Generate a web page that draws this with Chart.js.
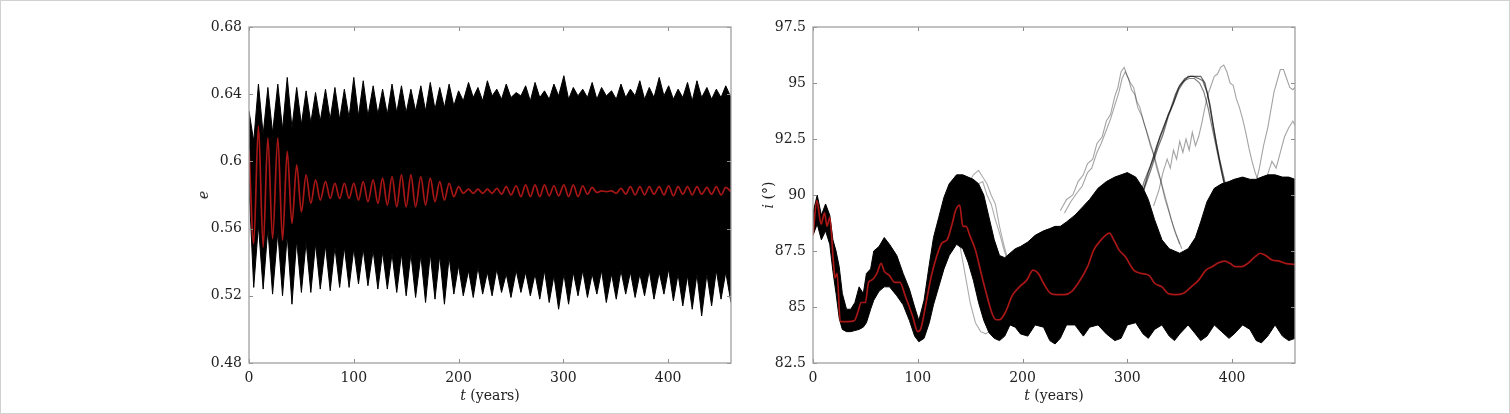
<!DOCTYPE html>
<html><head><meta charset="utf-8">
<script src="https://cdn.jsdelivr.net/npm/chart.js@4.4.1/dist/chart.umd.min.js"></script>
<style>
html,body{margin:0;padding:0;background:#fff;}
#wrap{position:relative;width:1510px;height:414px;overflow:hidden;background:#fff;}
canvas{position:absolute;top:0;}
.lbl{position:absolute;font-family:"DejaVu Serif",serif;font-size:14px;color:#222;white-space:nowrap;transform:translate(-50%,-50%);}
.rot{transform:translate(-50%,-50%) rotate(-90deg);}
#border{position:absolute;left:0;top:0;width:1510px;height:414px;box-sizing:border-box;border:1px solid #d2d2d2;pointer-events:none;}
</style></head><body>
<div id="wrap">
<canvas id="c1" style="left:150px" width="610" height="414"></canvas>
<canvas id="c2" style="left:760px" width="750" height="414"></canvas>
<div class="lbl" style="left:490px;top:395px"><i>t</i> (years)</div>
<div class="lbl" style="left:1054px;top:395px"><i>t</i> (years)</div>
<div class="lbl rot" style="left:203px;top:195px"><i>e</i></div>
<div class="lbl rot" style="left:768px;top:195px"><i>i</i> (°)</div>
<div id="border"></div>
</div>
<script>
// ---------- tick labels ----------
const xTicks = [0, 100, 200, 300, 400];
const yTicksLeft = [0.48, 0.52, 0.56, 0.60, 0.64, 0.68];
const yLabelsLeft = ['0.48', '0.52', '0.56', '0.6', '0.64', '0.68'];
const yTicksRight = [82.5, 85, 87.5, 90, 92.5, 95, 97.5];
const yLabelsRight = ['82.5', '85', '87.5', '90', '92.5', '95', '97.5'];

// ---------- left panel: eccentricity ----------
const tLeft = [0,4.5,9,13.5,18,22.5,27.5,32,36.5,41,
 45.5,50,54.5,59,63.5,68,73,77.5,82,86.5,
 91,95.5,100,104.5,109,113.5,118.5,123,127.5,132,
 136.5,141,145.5,150,154.5,159,164,168.5,173,177.5,
 182,186.5,191,195.5,200,204.5,209.5,214,218.5,223,
 227.5,232,236.5,241,245.5,250,255,259.5,264,268.5,
 273,277.5,282,286.5,291,295.5,300.5,305,309.5,314,
 318.5,323,327.5,332,336.5,341,346,350.5,355,359.5,
 364,368.5,373,377.5,382,386.5,391.5,396,400.5,405,
 409.5,414,418.5,423,427.5,432,437,441.5,446,450.5,
 455,460];
const eMean = [0.607,0.551,0.621,0.549,0.614,0.554,0.614,0.553,0.606,0.563,
 0.598,0.570,0.592,0.575,0.589,0.577,0.588,0.578,0.587,0.578,
 0.587,0.578,0.587,0.577,0.588,0.576,0.589,0.575,0.590,0.574,
 0.591,0.573,0.592,0.573,0.592,0.573,0.591,0.574,0.590,0.576,
 0.588,0.577,0.587,0.579,0.585,0.581,0.5835,0.581,0.5835,0.581,
 0.5835,0.581,0.584,0.5805,0.585,0.580,0.5855,0.579,0.586,0.579,
 0.586,0.579,0.586,0.5795,0.5855,0.5795,0.586,0.579,0.586,0.579,
 0.5855,0.5805,0.5845,0.5815,0.5825,0.582,0.5825,0.581,0.584,0.5805,
 0.585,0.580,0.585,0.580,0.585,0.5805,0.585,0.580,0.5855,0.5795,
 0.585,0.5805,0.585,0.580,0.585,0.5805,0.5845,0.5805,0.585,0.580,
 0.5845,0.582];
const eTop = [0.630,0.612,0.646,0.616,0.644,0.617,0.646,0.619,0.650,0.620,
 0.644,0.622,0.642,0.623,0.641,0.624,0.643,0.625,0.644,0.625,
 0.643,0.626,0.650,0.627,0.648,0.627,0.645,0.628,0.643,0.628,
 0.646,0.629,0.645,0.629,0.643,0.630,0.645,0.630,0.647,0.631,
 0.644,0.632,0.646,0.633,0.642,0.636,0.647,0.638,0.644,0.636,
 0.648,0.639,0.643,0.637,0.646,0.638,0.641,0.639,0.645,0.636,
 0.647,0.638,0.642,0.637,0.646,0.639,0.651,0.637,0.644,0.639,
 0.643,0.638,0.647,0.637,0.644,0.639,0.642,0.637,0.646,0.638,
 0.643,0.639,0.648,0.637,0.644,0.638,0.650,0.639,0.645,0.637,
 0.643,0.638,0.647,0.636,0.648,0.638,0.644,0.637,0.643,0.638,
 0.645,0.638];
const eBottom = [0.585,0.525,0.562,0.524,0.560,0.521,0.558,0.520,0.556,0.515,
 0.553,0.522,0.552,0.522,0.551,0.524,0.550,0.523,0.549,0.525,
 0.549,0.525,0.548,0.527,0.548,0.526,0.547,0.524,0.546,0.524,
 0.545,0.522,0.545,0.520,0.545,0.519,0.544,0.516,0.545,0.518,
 0.544,0.515,0.543,0.521,0.538,0.520,0.535,0.519,0.537,0.521,
 0.534,0.520,0.536,0.522,0.533,0.519,0.535,0.522,0.534,0.520,
 0.533,0.518,0.535,0.516,0.532,0.512,0.533,0.515,0.534,0.520,
 0.535,0.519,0.533,0.521,0.535,0.516,0.533,0.518,0.535,0.521,
 0.534,0.519,0.533,0.520,0.535,0.518,0.534,0.521,0.536,0.517,
 0.533,0.514,0.532,0.512,0.533,0.508,0.533,0.514,0.535,0.518,
 0.534,0.516];

// ---------- right panel: inclination ----------
const tMeanR = [0,3.7,7.7,11,13.4,16,19.5,21,23,26,33,39.6,43,46,50,53,56,61,65,68,
 73,78,83,88,95,100,103,108,113,118,123,128,133,136,140,143,146,150,155,161,
 166,171,175,178,184,190,197,204,210,215,220,227,233,240,247,253,262,268,275,283,
 287,292,298,306,313,321,326,333,339,346,353,361,368,375,381,386,393,398,403,409,
 415,422,427,432,438,445,451,460];
const iMean = [88.2,89.75,88.7,89.2,88.6,89.0,87.0,86.3,86.5,84.35,84.35,84.4,84.8,85.2,85.2,86.1,86.2,86.5,86.95,86.6,
 86.4,86.1,86.1,85.5,84.6,83.9,84.05,85.2,86.4,87.25,87.85,88.0,88.75,89.3,89.55,88.6,88.6,88.15,87.55,86.4,
 85.5,84.7,84.43,84.43,84.8,85.5,85.9,86.2,86.65,86.5,86.06,85.6,85.55,85.55,85.7,86.06,86.8,87.55,88.0,88.3,
 88.0,87.55,87.25,86.65,86.5,86.4,86.06,85.9,85.6,85.55,85.6,85.9,86.2,86.65,86.8,86.95,87.05,86.95,86.8,86.8,
 86.95,87.25,87.4,87.3,87.1,87.05,86.95,86.9];
const tBandR = [0,4,8,12,16,19,22,25,28,32,36,40,44,48,51,55,58,63,68,73,
 80,86,92,97,101,106,111,115,120,125,130,137,143,148,153,158,163,168,173,178,
 183,188,193,198,205,212,220,226,231,236,242,250,258,264,272,280,288,294,300,308,
 315,320,326,333,340,345,350,358,365,370,376,383,390,397,402,410,417,423,428,434,
 441,448,454,460];
const iTop = [89.2,90.0,89.1,89.6,89.1,88.0,87.5,86.8,85.6,84.9,84.9,85.2,85.9,85.6,86.5,86.7,87.5,87.7,88.1,87.8,
 87.3,86.5,85.8,85.0,84.4,85.3,86.9,88.1,89.0,89.9,90.5,90.9,90.9,90.8,90.7,90.5,90.0,89.0,88.0,87.3,
 87.2,87.4,87.6,87.7,87.9,88.2,88.4,88.5,88.6,88.6,88.8,89.1,89.5,89.8,90.3,90.6,90.8,90.9,91.0,90.8,
 90.3,89.8,88.9,88.0,87.6,87.5,87.4,87.6,88.1,88.8,89.7,90.3,90.5,90.6,90.7,90.8,90.7,90.7,90.8,90.9,
 90.9,90.8,90.8,90.7];
const iBottom = [88.2,88.7,88.0,88.4,87.8,86.6,85.6,84.5,84.0,83.9,83.9,83.95,84.0,84.1,84.3,84.9,85.3,85.7,85.9,85.9,
 85.5,85.1,84.4,83.7,83.45,83.6,84.3,85.1,85.9,86.7,87.3,87.8,87.6,87.0,86.2,85.2,84.4,83.85,83.6,83.5,
 83.7,84.2,84.1,83.8,83.7,84.2,84.1,83.5,83.35,83.6,84.2,84.2,83.7,84.1,84.2,83.8,83.5,83.6,84.2,84.3,
 83.8,83.6,84.0,84.2,83.7,83.5,83.8,84.2,83.8,83.5,83.7,84.2,83.9,83.6,83.8,84.2,84.0,83.5,83.4,83.7,
 84.2,83.7,83.5,83.6];
// individual outlier runs (grey lines)
const tRunA1 = [236,242,248,253,258,262,267,271,276,280,284,288,291,294,297,300,303,306,309,312,316,320,324,328,332,336,340,345,350];
const iRunA1 = [89.3,89.8,90.0,90.6,90.9,91.4,91.6,92.3,92.6,93.3,93.6,94.4,94.8,95.5,95.7,95.3,95.0,94.8,94.2,93.9,93.2,92.6,92.0,91.2,90.6,89.8,89.2,88.4,87.8];
const tRunA2 = [240,246,252,257,262,266,271,275,280,284,288,292,295,298,301,304,307,310,314,318,322,326,330,334,338,342,347,352];
const iRunA2 = [89.2,89.7,90.1,90.4,91.0,91.2,91.9,92.3,92.9,93.4,94.0,94.6,95.2,95.5,95.2,94.7,94.5,93.9,93.5,92.9,92.2,91.7,91.0,90.3,89.6,88.9,88.2,87.6];
const tRunB1 = [300,308,314,320,326,331,336,341,346,350,355,360,365,370,374,377,380,383,386,389,392,396,400,405];
const iRunB1 = [88.6,89.3,90.0,91.0,91.8,92.6,93.2,93.8,94.5,94.9,95.2,95.3,95.3,95.3,95.0,94.4,93.6,92.8,92.0,91.3,90.6,89.9,89.2,88.5];
const tRunB2 = [304,311,317,323,329,334,339,344,349,353,358,363,368,372,376,379,382,385,388,391,395,399,404,409];
const iRunB2 = [88.8,89.6,90.4,91.2,92.1,92.7,93.5,94.1,94.7,95.0,95.3,95.3,95.2,95.1,94.6,94.0,93.1,92.3,91.6,91.0,90.2,89.6,88.9,88.3];
const tRunB3 = [296,303,310,316,322,328,334,339,344,349,354,359,364,369,373,377,381,385,389,393,398,402];
const iRunB3 = [88.3,88.9,89.6,90.6,91.3,92.2,92.9,93.6,94.1,94.8,95.1,95.2,95.2,95.0,94.6,93.9,93.0,92.1,91.2,90.4,89.5,88.8];
const tRunC = [325,330,334,338,341,344,347,350,353,356,359,362,365,368,371,374,377,380,383,386,389,392,395,398,401,404,407,410,413,416,419,422,426,430];
const iRunC = [89.5,90.2,91.0,91.6,91.2,92.0,91.6,92.4,91.9,92.5,92.0,92.8,92.2,92.6,93.2,93.9,94.5,94.9,95.3,95.4,95.7,95.8,95.5,95.0,94.9,94.3,93.9,93.4,92.8,92.1,91.5,91.0,90.5,90.0];
const tRunD = [422,426,430,434,437,440,443,446,449,452,455,458,460];
const iRunD = [90.4,91.2,92.2,93.0,93.8,94.6,95.1,95.6,95.6,95.2,94.8,94.7,94.8];
const tRunE = [428,433,438,442,446,450,454,458,460];
const iRunE = [90.3,90.8,91.5,91.2,91.9,92.6,93.0,93.3,93.1];
const tRunG1 = [148,153,158,162,166,170,174,178,182,186,190,195,200];
const iRunG1 = [90.5,90.9,91.1,90.8,90.5,90.0,89.6,88.6,87.8,87.1,86.5,85.8,85.2];
const tRunG2 = [150,154,158,162,166,170,174,178,182,186,190,194,198,202];
const iRunG2 = [90.3,90.6,90.5,90.6,90.0,89.6,88.9,88.3,87.6,87.0,86.1,85.5,84.8,84.3];
const tRunG3 = [140,145,150,155,160,165,170,175,180];
const iRunG3 = [87.8,86.5,85.2,84.3,83.9,83.8,84.0,84.3,84.5];

// ---------- helpers ----------
const pts = (ts, vs) => ts.map((t, k) => ({x: t, y: vs[k]}));
const FONT = {family: '"DejaVu Serif", serif', size: 14};
const TXT = '#222';
const RED = '#a81616';

const framePlugin = {
  id: 'frame',
  afterDraw(chart) {
    const {ctx, chartArea: a, scales} = chart;
    ctx.save();
    ctx.strokeStyle = '#8c8c8c';
    ctx.lineWidth = 1;
    ctx.beginPath();
    scales.x.ticks.forEach(tk => {
      const px = Math.round(scales.x.getPixelForValue(tk.value)) + 0.5;
      ctx.moveTo(px, a.bottom); ctx.lineTo(px, a.bottom - 4);
      ctx.moveTo(px, a.top); ctx.lineTo(px, a.top + 4);
    });
    scales.y.ticks.forEach(tk => {
      const py = Math.round(scales.y.getPixelForValue(tk.value)) + 0.5;
      ctx.moveTo(a.left, py); ctx.lineTo(a.left + 4, py);
      ctx.moveTo(a.right, py); ctx.lineTo(a.right - 4, py);
    });
    ctx.stroke();
    ctx.strokeStyle = '#a0a0a0';
    ctx.lineWidth = 1.3;
    ctx.strokeRect(a.left, a.top, a.right - a.left, a.bottom - a.top);
    ctx.restore();
  }
};

function baseOptions(yMin, yMax, yTicks, yLabels, yWidth, padRight) {
  return {
    responsive: false, animation: false, devicePixelRatio: 1,
    layout: {padding: {left: 0, right: padRight, top: 27, bottom: 0}},
    plugins: {legend: {display: false}, tooltip: {enabled: false}},
    elements: {point: {radius: 0, hoverRadius: 0}},
    events: [],
    scales: {
      x: {
        type: 'linear', min: 0, max: 460,
        afterBuildTicks: s => { s.ticks = xTicks.map(v => ({value: v})); },
        afterFit: s => { s.height = 51; },
        grid: {display: false, drawTicks: false},
        border: {display: false},
        ticks: {padding: 7, font: FONT, color: TXT, maxRotation: 0,
                callback: (v, k) => String(xTicks[k])}
      },
      y: {
        type: 'linear', min: yMin, max: yMax,
        afterBuildTicks: s => { s.ticks = yTicks.map(v => ({value: v})); },
        afterFit: s => { s.width = yWidth; },
        grid: {display: false, drawTicks: false},
        border: {display: false},
        ticks: {padding: 7, font: FONT, color: TXT,
                callback: (v, k) => yLabels[k]}
      }
    }
  };
}

// ---------- left chart ----------
new Chart(document.getElementById('c1'), {
  type: 'line',
  data: {datasets: [
    {data: pts(tLeft, eMean), borderColor: RED, borderWidth: 1.7,
     cubicInterpolationMode: 'monotone', fill: false, order: 0},
    {data: pts(tLeft, eTop), borderColor: '#000', borderWidth: 1, tension: 0,
     fill: '+1', backgroundColor: '#000', order: 2},
    {data: pts(tLeft, eBottom), borderColor: '#000', borderWidth: 1, tension: 0,
     fill: false, order: 3}
  ]},
  options: baseOptions(0.48, 0.68, yTicksLeft, yLabelsLeft, 99, 29),
  plugins: [framePlugin]
});

// ---------- right chart ----------
const grey = (ts, vs, c, w) => ({data: pts(ts, vs), borderColor: c, borderWidth: w || 1.1, tension: 0, fill: false, order: 1});
new Chart(document.getElementById('c2'), {
  type: 'line',
  data: {datasets: [
    {data: pts(tMeanR, iMean), borderColor: RED, borderWidth: 1.7,
     cubicInterpolationMode: 'monotone', fill: false, order: 0},
    grey(tRunA1, iRunA1, 'rgba(0,0,0,0.36)'),
    grey(tRunA2, iRunA2, 'rgba(0,0,0,0.36)'),
    grey(tRunB1, iRunB1, 'rgba(0,0,0,0.6)', 1.3),
    grey(tRunB2, iRunB2, 'rgba(0,0,0,0.55)', 1.3),
    grey(tRunB3, iRunB3, 'rgba(0,0,0,0.5)', 1.2),
    grey(tRunC, iRunC, 'rgba(0,0,0,0.36)'),
    grey(tRunD, iRunD, 'rgba(0,0,0,0.36)'),
    grey(tRunE, iRunE, 'rgba(0,0,0,0.36)'),
    grey(tRunG1, iRunG1, 'rgba(0,0,0,0.33)'),
    grey(tRunG2, iRunG2, 'rgba(0,0,0,0.33)'),
    grey(tRunG3, iRunG3, 'rgba(0,0,0,0.33)'),
    {data: pts(tBandR, iTop), borderColor: '#000', borderWidth: 1, tension: 0,
     fill: '+1', backgroundColor: '#000', order: 2},
    {data: pts(tBandR, iBottom), borderColor: '#000', borderWidth: 1, tension: 0,
     fill: false, order: 3}
  ]},
  options: baseOptions(82.5, 97.5, yTicksRight, yLabelsRight, 53, 215),
  plugins: [framePlugin]
});
</script>
</body></html>
